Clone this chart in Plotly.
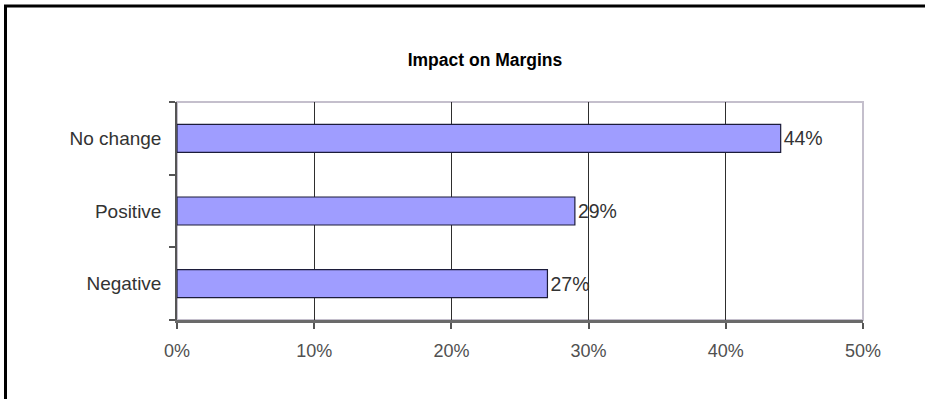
import plotly.graph_objects as go

# Survey responses: impact on margins
categories = ["Negative", "Positive", "No change"]
shares = [0.27, 0.29, 0.44]
x_ticks = [0.0, 0.1, 0.2, 0.3, 0.4, 0.5]
x_tick_labels = ["0%", "10%", "20%", "30%", "40%", "50%"]

W, H = 926, 400
L, R, T, B = 177, 63, 102, 80
pw, ph = W - L - R, H - T - B


def px_to_paper_x(px):
    return (px - L) / pw


def px_to_paper_y(py):
    return (H - B - py) / ph


FONT = "Liberation Sans, Arial, sans-serif"

fig = go.Figure(
    go.Bar(
        x=shares,
        y=categories,
        orientation="h",
        marker=dict(color="#9f9dff", line=dict(color="#1c1c3a", width=1.2)),
        width=0.385,
        texttemplate="%{x:.0%}",
        textposition="outside",
        textfont=dict(family=FONT, size=19.5, color="#333333"),
        cliponaxis=False,
        hoverinfo="skip",
    )
)

# outer black edge along the left and top of the chart, as one open path
edge_path = "M {x0:.5f},{y0:.5f} L {x0:.5f},{y1:.5f} L {x1:.5f},{y1:.5f}".format(
    x0=px_to_paper_x(5.5),
    y0=px_to_paper_y(H - 1),
    y1=px_to_paper_y(6),
    x1=px_to_paper_x(W - 1),
)

shapes = [
    # light frame around the plotting area
    dict(type="rect", xref="paper", yref="paper", x0=0, x1=1, y0=0, y1=1,
         line=dict(color="#c4bfcc", width=2), layer="below"),
    dict(type="path", xref="paper", yref="paper", path=edge_path,
         line=dict(color="#000000", width=3), fillcolor="rgba(0,0,0,0)"),
]

fig.update_layout(
    width=W,
    height=H,
    margin=dict(l=L, r=R, t=T, b=B, pad=0),
    paper_bgcolor="white",
    plot_bgcolor="white",
    showlegend=False,
    font=dict(family=FONT, size=17, color="#333333"),
    title=dict(
        text="<b>Impact on Margins</b>",
        x=px_to_paper_x(485), xref="paper", xanchor="center",
        y=1 - 60 / H, yref="container", yanchor="middle",
        font=dict(family=FONT, size=17.5, color="#000000"),
    ),
    shapes=shapes,
    xaxis=dict(
        range=[0, 0.5],
        tickvals=x_ticks,
        ticktext=x_tick_labels,
        showgrid=True,
        gridcolor="#2e2e2e",
        gridwidth=1.2,
        zeroline=False,
        showline=True,
        linecolor="#6a6a6a",
        linewidth=2.5,
        ticks="outside",
        ticklen=6,
        tickwidth=1.5,
        tickcolor="#555555",
        tickfont=dict(family=FONT, size=18, color="#505050"),
        ticklabelstandoff=7,
        fixedrange=True,
    ),
    yaxis=dict(
        categoryorder="array",
        categoryarray=categories,
        showgrid=False,
        zeroline=False,
        showline=True,
        linecolor="#555555",
        linewidth=1.5,
        ticks="outside",
        tickson="boundaries",
        ticklen=6,
        tickwidth=1.5,
        tickcolor="#555555",
        tickfont=dict(family=FONT, size=19, color="#333333"),
        ticklabelstandoff=10,
        fixedrange=True,
    ),
)

fig.write_html("out.html", config={"displayModeBar": False})
